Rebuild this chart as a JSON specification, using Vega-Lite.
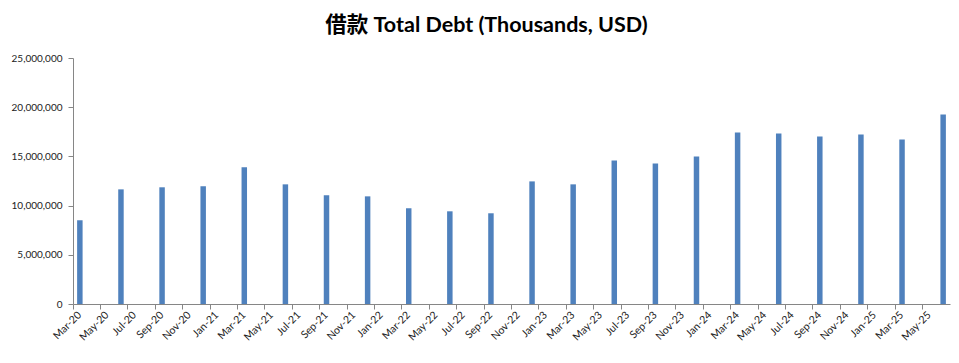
{
  "$schema": "https://vega.github.io/schema/vega-lite/v6.json",
  "width": 877,
  "height": 246,
  "autosize": "none",
  "padding": {"left": 73, "top": 58, "right": 9, "bottom": 59},
  "background": "white",
  "config": {
    "view": {"stroke": null},
    "font": "Lato"
  },
  "title": {
    "text": "借款 Total Debt (Thousands, USD)",
    "font": "Lato, Noto Sans CJK SC",
    "fontSize": 21.5,
    "fontWeight": "bold",
    "color": "#000000",
    "anchor": "middle",
    "frame": "group",
    "dx": -25,
    "offset": 17
  },
  "data": {
    "values": [
      {"month": "Mar-20", "debt": 8510000},
      {"month": "Jun-20", "debt": 11650000},
      {"month": "Sep-20", "debt": 11860000},
      {"month": "Dec-20", "debt": 11960000},
      {"month": "Mar-21", "debt": 13890000},
      {"month": "Jun-21", "debt": 12160000},
      {"month": "Sep-21", "debt": 11040000},
      {"month": "Dec-21", "debt": 10940000},
      {"month": "Mar-22", "debt": 9730000},
      {"month": "Jun-22", "debt": 9420000},
      {"month": "Sep-22", "debt": 9220000},
      {"month": "Dec-22", "debt": 12460000},
      {"month": "Mar-23", "debt": 12160000},
      {"month": "Jun-23", "debt": 14590000},
      {"month": "Sep-23", "debt": 14290000},
      {"month": "Dec-23", "debt": 15000000},
      {"month": "Mar-24", "debt": 17430000},
      {"month": "Jun-24", "debt": 17330000},
      {"month": "Sep-24", "debt": 17030000},
      {"month": "Dec-24", "debt": 17230000},
      {"month": "Mar-25", "debt": 16720000},
      {"month": "Jun-25", "debt": 19260000}
    ]
  },
  "mark": {"type": "bar", "color": "#4F81BD", "width": {"band": 0.4}},
  "encoding": {
    "x": {
      "field": "month",
      "type": "ordinal",
      "sort": null,
      "scale": {
        "domain": ["Mar-20","Apr-20","May-20","Jun-20","Jul-20","Aug-20","Sep-20","Oct-20","Nov-20","Dec-20",
                   "Jan-21","Feb-21","Mar-21","Apr-21","May-21","Jun-21","Jul-21","Aug-21","Sep-21","Oct-21","Nov-21","Dec-21",
                   "Jan-22","Feb-22","Mar-22","Apr-22","May-22","Jun-22","Jul-22","Aug-22","Sep-22","Oct-22","Nov-22","Dec-22",
                   "Jan-23","Feb-23","Mar-23","Apr-23","May-23","Jun-23","Jul-23","Aug-23","Sep-23","Oct-23","Nov-23","Dec-23",
                   "Jan-24","Feb-24","Mar-24","Apr-24","May-24","Jun-24","Jul-24","Aug-24","Sep-24","Oct-24","Nov-24","Dec-24",
                   "Jan-25","Feb-25","Mar-25","Apr-25","May-25","Jun-25"],
        "paddingInner": 0,
        "paddingOuter": 0
      },
      "axis": {
        "title": null,
        "values": ["Mar-20","May-20","Jul-20","Sep-20","Nov-20","Jan-21","Mar-21","May-21","Jul-21","Sep-21","Nov-21",
                   "Jan-22","Mar-22","May-22","Jul-22","Sep-22","Nov-22","Jan-23","Mar-23","May-23","Jul-23","Sep-23","Nov-23",
                   "Jan-24","Mar-24","May-24","Jul-24","Sep-24","Nov-24","Jan-25","Mar-25","May-25"],
        "bandPosition": 0,
        "labelAngle": -45,
        "labelAlign": "right",
        "labelBaseline": "middle",
        "labelPadding": 4,
        "labelFontSize": 10.5,
        "labelColor": "#222222",
        "labelFont": "Lato",
        "domainColor": "#868686",
        "tickColor": "#868686",
        "tickSize": 5,
        "grid": false,
        "labelOverlap": false
      }
    },
    "y": {
      "field": "debt",
      "type": "quantitative",
      "scale": {"domain": [0, 25000000], "nice": false},
      "axis": {
        "title": null,
        "values": [0, 5000000, 10000000, 15000000, 20000000, 25000000],
        "format": ",d",
        "labelFontSize": 10,
        "labelColor": "#222222",
        "labelFont": "Lato",
        "labelPadding": 6,
        "domainColor": "#868686",
        "tickColor": "#868686",
        "tickSize": 5,
        "grid": false
      }
    }
  }
}
